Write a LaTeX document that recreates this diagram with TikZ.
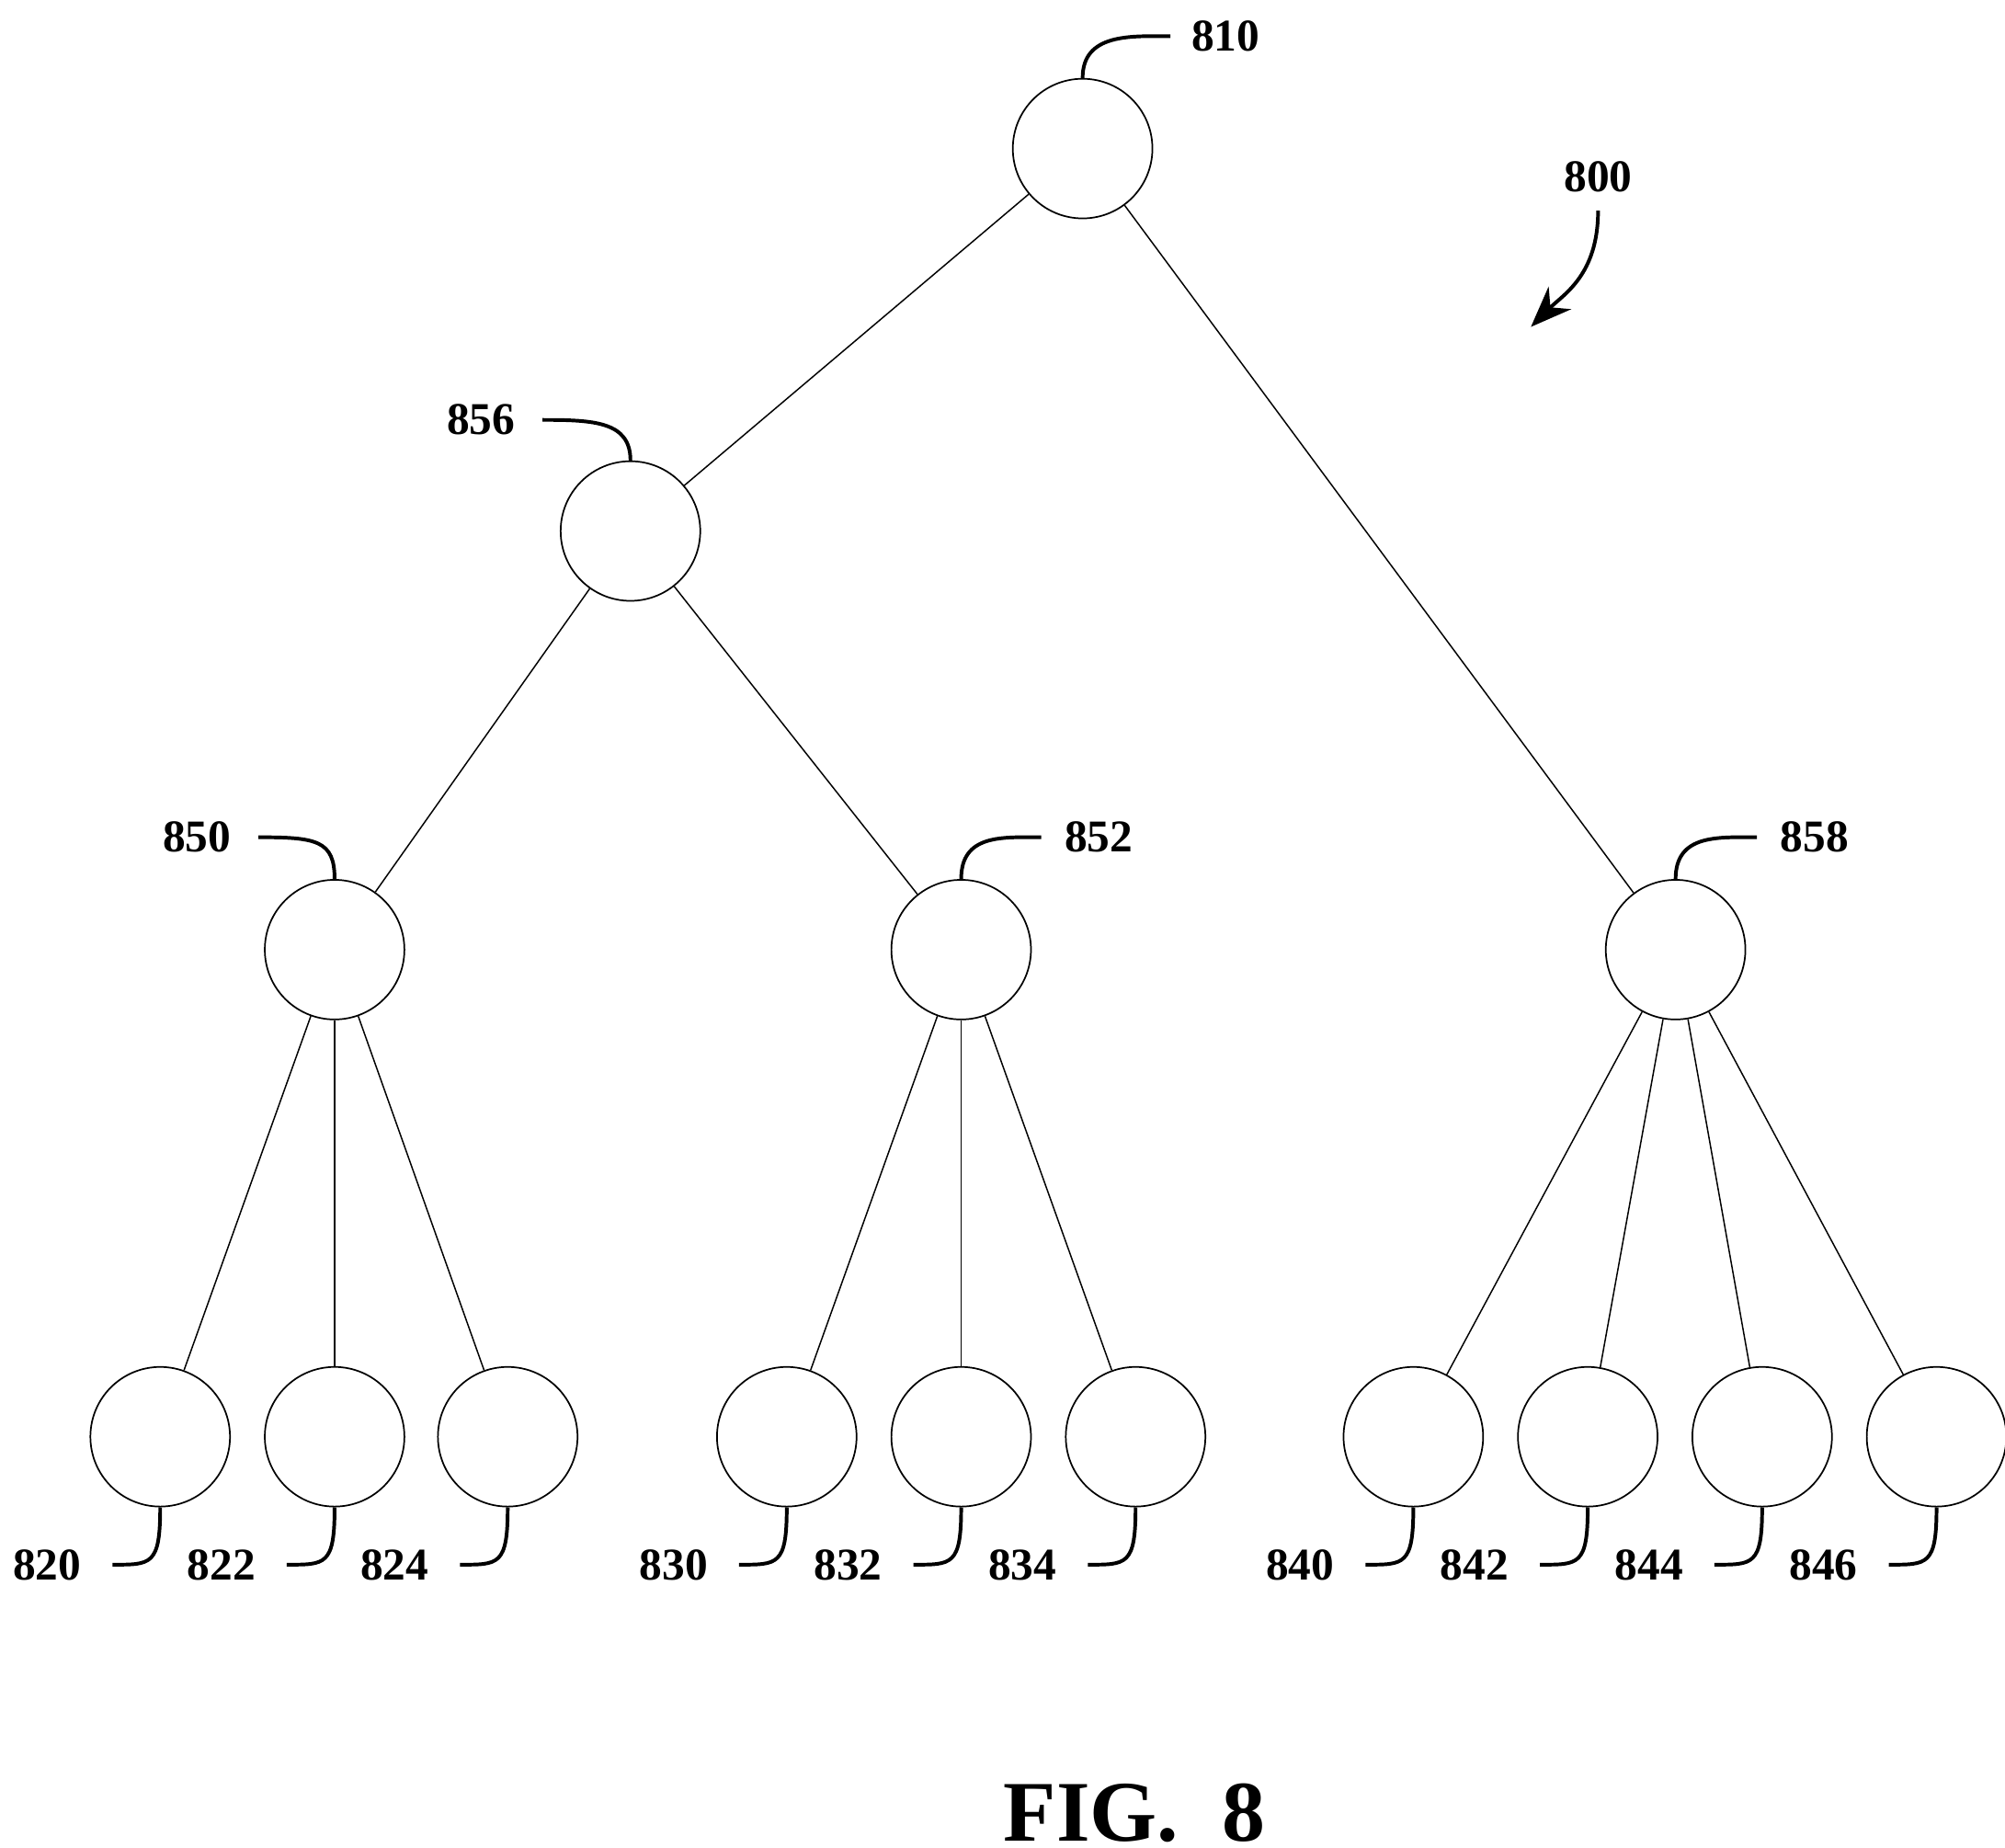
\documentclass[tikz,border=0pt]{standalone}
\usepackage{fontspec}
\setmainfont{Liberation Serif}
\usetikzlibrary{positioning, calc, arrows.meta}

\tikzset{
    vertex/.style={circle, draw, line width=0.35pt, minimum size=1.08cm, inner sep=0pt},
    edge/.style={line width=0.3pt},
    tag/.style={font=\bfseries\fontsize{10}{12}\selectfont, inner sep=1pt},
    hook/.style={line width=0.8pt}
}

\begin{document}
\begin{tikzpicture}[x=0.01cm, y=-0.01cm]
        \useasboundingbox (0,0) rectangle (1552,1430);

        % inner nodes
        \node[vertex] (n810) at (838,115) {};
        \node[vertex] (n856) at (488,411) {};
        \node[vertex] (n850) at (259,735) {};
        \node[vertex] (n852) at (744,735) {};
        \node[vertex] (n858) at (1297,735) {};

        % leaves
        \foreach \x/\n in {124/820,259/822,393/824,609/830,744/832,879/834,1094/840,1229/842,1364/844,1499/846} {
                \node[vertex] (n\n) at (\x,1112) {};
                \node[tag, anchor=east] (l\n) at (\x-57,1211) {\n};
                \draw[hook] (n\n.south) .. controls +(0,45) and +(30,0) .. ($(l\n.east)+(20,0)$);
            }

        % edges
        \draw[edge] (n810) -- (n856);
        \draw[edge] (n810) -- (n858);
        \draw[edge] (n856) -- (n850);
        \draw[edge] (n856) -- (n852);
        \foreach \n in {820,822,824} \draw[edge] (n850) -- (n\n);
        \foreach \n in {830,832,834} \draw[edge] (n852) -- (n\n);
        \foreach \n in {840,842,844,846} \draw[edge] (n858) -- (n\n);

        % labels of inner nodes
        \node[tag, anchor=west] (l810) at (918,28) {810};
        \draw[hook] (n810.north) .. controls +(0,-35) and +(-30,0) .. ($(l810.west)+(-12,0)$);
        \node[tag, anchor=east] (l856) at (403,325) {856};
        \draw[hook] ($(l856.east)+(17,0)$) .. controls +(40,0) and +(0,-30) .. (n856.north);
        \node[tag, anchor=east] (l850) at (183,648) {850};
        \draw[hook] ($(l850.east)+(17,0)$) .. controls +(45,0) and +(0,-30) .. (n850.north);
        \node[tag, anchor=west] (l852) at (820,648) {852};
        \draw[hook] (n852.north) .. controls +(0,-35) and +(-30,0) .. ($(l852.west)+(-14,0)$);
        \node[tag, anchor=west] (l858) at (1374,648) {858};
        \draw[hook] (n858.north) .. controls +(0,-35) and +(-30,0) .. ($(l858.west)+(-14,0)$);

        % figure reference
        \node[tag] (l800) at (1237,137) {800};
        \coordinate (a800) at (1185,253);
        \draw[hook, -{Stealth[length=9pt, width=7pt]}] ($(l800.south)+(0,10)$) .. controls +(0,50) and +(25,-25) .. (a800);

        \node[font=\bfseries\fontsize{19}{22}\selectfont, inner sep=0pt] (fig) at (878,1403) {FIG.\ \ 8};
    \end{tikzpicture}
\end{document}
